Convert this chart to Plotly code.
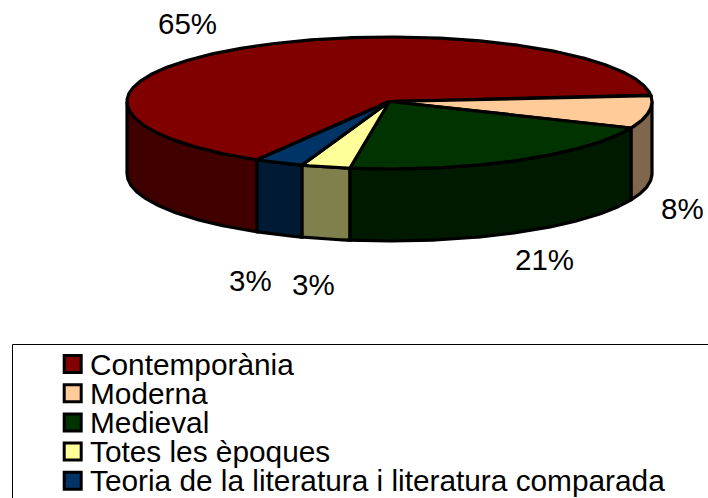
import numpy as np
import plotly.graph_objects as go

categories = ["Contemporània", "Moderna", "Medieval", "Totes les èpoques",
              "Teoria de la literatura i literatura comparada"]
values = [65, 8, 21, 3, 3]
value_labels = ["65%", "8%", "21%", "3%", "3%"]

top_colors = ["#800000", "#FFCC99", "#003300", "#FFFF99", "#003366"]
side_colors = ["#400000", "#80664D", "#001A00", "#80804D", "#001A33"]

# Pie geometry in pixels (axes map 1:1 to the page)
WIDTH, HEIGHT = 708, 498
CX, CY = 389.5, 101.5
RX = 262.5
RY_FRONT, RY_BACK = 67.5, 64.5  # slight perspective: near half is a bit deeper
DEPTH = 72
START = 120.3  # screen angle where the first slice begins, clockwise from east
FONT = "Liberation Sans"
LINE = 3.2

label_xy = [(187, 23), (682, 208), (544, 259), (250, 280), (313, 284)]


def arc(t0, t1, dy=0):
    t = np.radians(np.linspace(t0, t1, max(int(abs(t1 - t0)) * 2, 2)))
    s = np.sin(t)
    return CX + RX * np.cos(t), CY + dy + np.where(s > 0, RY_FRONT, RY_BACK) * s


fig = go.Figure()

angles = START + np.concatenate([[0], np.cumsum(values)]) * 3.6
spans = list(zip(angles[:-1], angles[1:]))


def side_ranges(a0, a1):
    # visible front wall is where the angle is in 0-180 (or 360-540)
    out = []
    for lo, hi in [(0, 180), (360, 540)]:
        s, e = max(a0, lo), min(a1, hi)
        if e > s:
            out.append((s, e))
    return out


for (a0, a1), color in zip(spans, side_colors):
    for s, e in side_ranges(a0, a1):
        x1, y1 = arc(s, e)
        x2, y2 = arc(e, s, DEPTH)
        fig.add_trace(go.Scatter(
            x=np.r_[x1, x2, x1[0]], y=np.r_[y1, y2, y1[0]],
            mode="lines", fill="toself", fillcolor=color,
            line=dict(color="black", width=LINE),
        ))

for (a0, a1), color in zip(spans, top_colors):
    x, y = arc(a0, a1)
    fig.add_trace(go.Scatter(
        x=np.r_[CX, x, CX], y=np.r_[CY, y, CY],
        mode="lines", fill="toself", fillcolor=color,
        line=dict(color="black", width=LINE),
    ))

for text, (x, y) in zip(value_labels, label_xy):
    fig.add_annotation(x=x, y=y, text=text, showarrow=False,
                       font=dict(family=FONT, size=29.5, color="black"))

# Legend box runs off the right and bottom of the picture
fig.add_shape(type="rect", x0=12.5, x1=720, y0=344.5, y1=510,
              line=dict(color="black", width=1), fillcolor="white", layer="below")

row_y = [364 + 29.2 * i for i in range(len(categories))]
fig.add_trace(go.Scatter(
    x=[72.7] * len(categories), y=row_y, mode="markers",
    marker=dict(symbol="square", size=17, color=top_colors,
                line=dict(color="black", width=3)),
))
for name, y in zip(categories, row_y):
    fig.add_annotation(x=88, y=y, text=name, showarrow=False, xanchor="left",
                       font=dict(family=FONT, size=29.8, color="black"))

fig.update_layout(
    width=WIDTH, height=HEIGHT, autosize=False,
    margin=dict(l=0, r=0, t=0, b=0),
    paper_bgcolor="white", plot_bgcolor="white",
    showlegend=False, hovermode=False,
    xaxis=dict(range=[0, WIDTH], visible=False, fixedrange=True),
    yaxis=dict(range=[HEIGHT, 0], visible=False, fixedrange=True),
)

# drop the browser's default page margin so the figure fills the window
fig.write_html("out.html", config={"displayModeBar": False},
               post_script="document.body.style.margin='0';")
